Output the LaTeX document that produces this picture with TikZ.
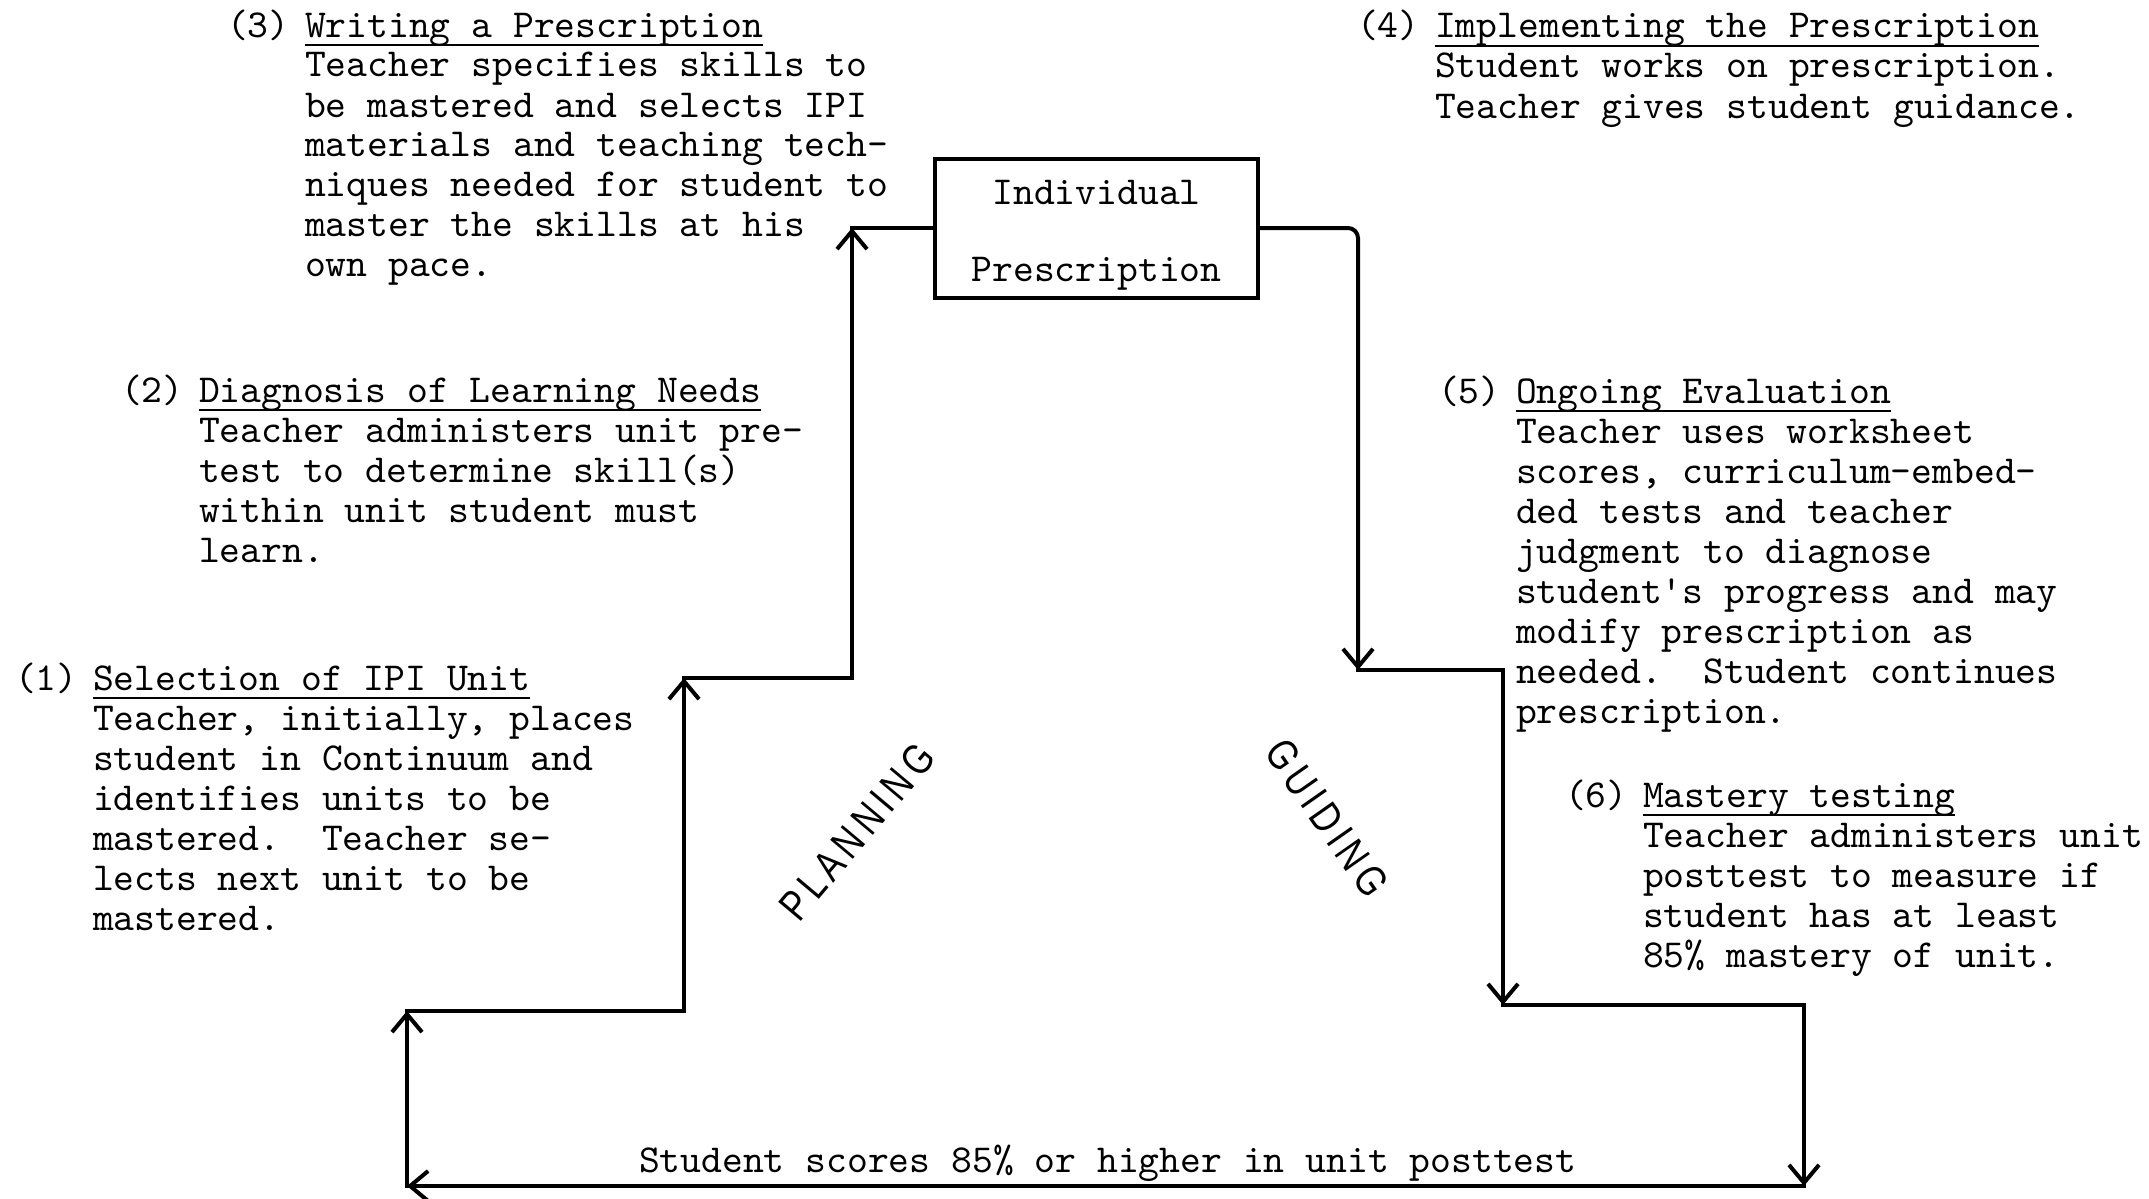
\documentclass[tikz,border=0pt]{standalone}
\usepackage{fontspec}
\usepackage{graphicx}
\usetikzlibrary{arrows.meta}
\setmonofont{lmmono10-regular.otf}
\newfontfamily\stairfont[LetterSpace=16]{Liberation Sans}
% underlined heading of a step
\newcommand\uttl[1]{\setbox0=\hbox{#1}\rlap{\rule[-4.5pt]{\wd0}{1.2pt}}\box0}
% step number hanging left of the text column
\newcommand\stepno[1]{\spaceskip=0pt\xspaceskip=0pt\relax\llap{(#1)\hspace{7.75pt}}}

\begin{document}
\frenchspacing
\begin{tikzpicture}[x=0.5pt, y=-0.5pt,
  every node/.style={inner sep=0pt, outer sep=0pt},
  tt/.style={font=\ttfamily\fontsize{19.84}{20}\selectfont},
  note/.style={tt, anchor=base west, text width=620pt, align=left},
  flow/.style={line width=2pt, line cap=rect},
  tip/.style={-{Straight Barb[length=9pt,width=15pt]}},
  stair/.style={font=\stairfont\fontsize{21.5}{22}\selectfont}
]
\useasboundingbox (0,0) rectangle (2149,1199);

% central box
\node[draw, line width=2pt, minimum width=161.5pt, minimum height=69.5pt,
      align=center, font=\ttfamily\fontsize{19.84}{38.5}\selectfont]
      (rx) at (1096.5,228) {\rule{0pt}{19pt}Individual\\Prescription};

% corners of the cycle
\coordinate (L0) at (407,1186);
\coordinate (L1) at (407,1011);
\coordinate (L2) at (684,1011);
\coordinate (L3) at (684,678);
\coordinate (L4) at (852,678);
\coordinate (L5) at (852,228);
\coordinate (R0) at (1358,228);
\coordinate (R1) at (1358,670);
\coordinate (R2) at (1503,670);
\coordinate (R3) at (1503,1005);
\coordinate (R4) at (1804,1005);
\coordinate (R5) at (1804,1186);

% planning staircase (up)
\draw[flow,tip] (R5) -- (L0);
\draw[flow,tip] (L0) -- (L1);
\draw[flow,tip] (L1) -- (L2) -- (L3);
\draw[flow,tip] (L3) -- (L4) -- (L5);
\draw[flow] (L5) -- (rx.west);
% guiding staircase (down)
\draw[flow,tip,rounded corners=5pt] (rx.east) -- (R0) -- (R1);
\draw[flow,tip] (R1) -- (R2) -- (R3);
\draw[flow,tip] (R3) -- (R4) -- (R5);

% step descriptions
\node[note] (s1) at (93,690) {\stepno{1}\uttl{Selection of IPI Unit}\\
Teacher, initially, places\\
student in Continuum and\\
identifies units to be\\
mastered.\ \ Teacher se-\\
lects next unit to be\\
mastered.};

\node[note] (s2) at (199,402) {\stepno{2}\uttl{Diagnosis of Learning Needs}\\
Teacher administers unit pre-\\
test to determine skill(s)\\
within unit student must\\
learn.};

\node[note] (s3) at (305,37) {\stepno{3}\uttl{Writing a Prescription}\\
Teacher specifies skills to\\
be mastered and selects IPI\\
materials and teaching tech-\\
niques needed for student to\\
master the skills at his\\
own pace.};

\node[note] (s4) at (1435,38) {\stepno{4}\uttl{Implementing the Prescription}\\
Student works on prescription.\\
Teacher gives student guidance.};

\node[note] (s5) at (1516,403) {\stepno{5}\uttl{Ongoing Evaluation}\\
Teacher uses worksheet\\
scores, curriculum-embed-\\
ded tests and teacher\\
judgment to diagnose\\
student's progress and may\\
modify prescription as\\
needed.\ \ Student continues\\
prescription.};

\node[note] (s6) at (1643,807) {\stepno{6}\uttl{Mastery testing}\\
Teacher administers unit\\
posttest to measure if\\
student has at least\\
85\% mastery of unit.};

\node[tt, anchor=base west] (pass) at (639,1172) {Student scores 85\% or higher in unit posttest};

% phase labels
\node[stair, rotate=50] (plan) at (857,832) {\scalebox{0.8}[1]{PLANNING}};
\node[stair, rotate=-55] (guide) at (1327,818) {\scalebox{0.8}[1]{GUIDING}};
\end{tikzpicture}
\end{document}
